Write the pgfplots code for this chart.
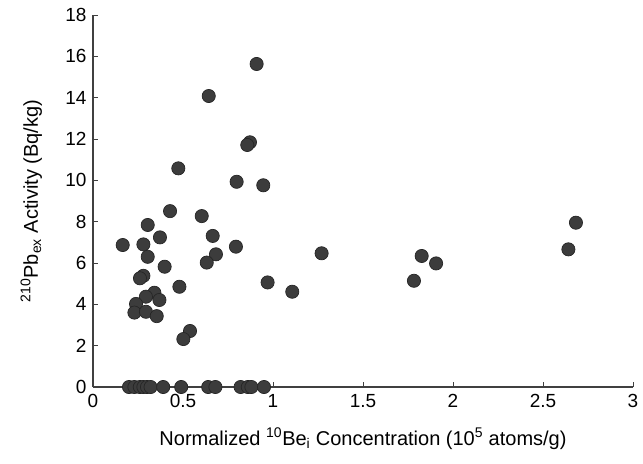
\documentclass[border=0pt]{standalone}
\usepackage{pgfplots}
\pgfplotsset{compat=1.18}
\usepackage{fontspec}
\setmainfont{Liberation Sans}
\definecolor{mk}{HTML}{3C3C3C}
\definecolor{ax}{HTML}{404040}
\begin{document}
\begin{tikzpicture}
\begin{axis}[
  scale only axis,
  width=540pt, height=372pt,
  xmin=0, xmax=3, ymin=0, ymax=18,
  axis x line*=bottom, axis y line*=left,
  axis line style={ax, line width=1.1pt},
  xtick={0,0.5,...,3}, ytick={0,2,...,18},
  tick align=inside,
  major tick length=5pt,
  tick style={ax, line width=0.9pt},
  /pgf/number format/assume math mode=true,
  ticklabel style={font=\fontsize{19}{23}\selectfont, text=black},
  xticklabel style={yshift=-4pt},
  yticklabel style={xshift=-3pt},
  xlabel={Normalized \textsuperscript{10}Be\textsubscript{i} Concentration (10\textsuperscript{5} atoms/g)},
  ylabel={\textsuperscript{210}Pb\textsubscript{ex} Activity (Bq/kg)},
  label style={font=\fontsize{20}{24}\selectfont},
  xlabel style={at={(axis description cs:0.5,-0.156)}, anchor=base},
  ylabel style={at={(axis description cs:-0.102,0.5)}, anchor=base},
  clip=false,
]
\addplot[only marks, mark=*, mark size=6.6pt, mark options={fill=mk, draw=black!85, line width=0.7pt}] coordinates {
(0.909,15.63) (0.643,14.08) (0.872,11.84) (0.857,11.71) (0.474,10.58)
(0.798,9.93) (0.946,9.76) (0.428,8.51) (0.604,8.27) (0.304,7.84)
(0.665,7.31) (0.372,7.24) (0.165,6.87) (0.280,6.90) (0.794,6.79)
(0.683,6.42) (0.304,6.30) (0.632,6.02) (0.398,5.82) (0.280,5.38)
(0.261,5.26) (0.970,5.06) (0.480,4.85) (0.341,4.56) (0.294,4.37)
(0.369,4.21) (0.239,4.02) (0.230,3.60) (0.294,3.64) (0.354,3.43)
(0.539,2.71) (0.502,2.32) (1.270,6.47) (1.107,4.61) (1.826,6.34)
(1.906,5.98) (1.783,5.14) (2.683,7.95) (2.641,6.66)
(0.20,0) (0.23,0) (0.26,0) (0.28,0) (0.30,0) (0.32,0) (0.39,0)
(0.49,0) (0.64,0) (0.68,0) (0.82,0) (0.86,0) (0.88,0) (0.95,0)
};
\end{axis}
\path (current axis.south west) ++(-93pt,-76pt) coordinate (bbA);
\path (current axis.north east) ++(10pt,15pt) coordinate (bbB);
\path (bbA) rectangle (bbB);
\end{tikzpicture}
\end{document}
